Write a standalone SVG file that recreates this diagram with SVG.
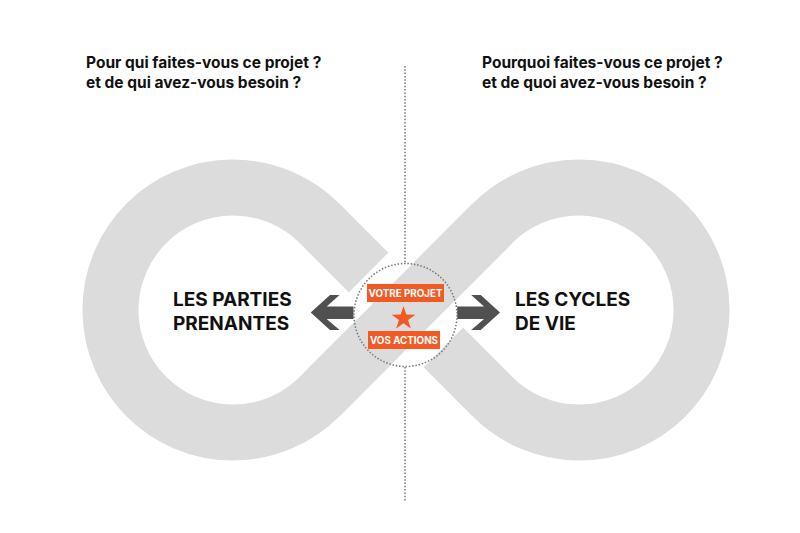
<svg xmlns="http://www.w3.org/2000/svg" width="800" height="533" viewBox="0 0 800 533">
<style>
.q{font-family:Inter,"Liberation Sans",sans-serif;font-weight:700;font-size:15.5px;fill:#111}
.lbl{font-family:Inter,"Liberation Sans",sans-serif;font-weight:700;font-size:19px;fill:#111}
.tag{font-family:Inter,"Liberation Sans",sans-serif;font-weight:700;font-size:9.8px;fill:#fff}
.dot{fill:none;stroke:#777;stroke-width:1.5;stroke-dasharray:1.5 1.8}
.arr{fill:#505050}
.org{fill:#f15a24}
</style>
<rect width="800" height="533" fill="#fff"/>
<g id="infinity">
<path d="M319.7 396.5 L492.3 223.5 A122.5 122.5 0 1 1 492.3 396.5 L319.7 223.5 A122.5 122.5 0 1 0 319.7 396.5 Z" fill="none" stroke="#dcdcdc" stroke-width="56"/>
<line x1="377.8" y1="338.3" x2="434.2" y2="281.7" stroke="#fff" stroke-width="106"/>
<line x1="319.7" y1="396.5" x2="492.3" y2="223.5" stroke="#dcdcdc" stroke-width="56"/>
</g>
<g id="connectors">
<line class="dot" x1="405" y1="66" x2="405" y2="263"/>
<line class="dot" x1="405" y1="367" x2="405" y2="502"/>
<polygon class="arr" points="310.7,312.5 330,295 339.5,295 326.7,306.5 353.5,306.5 353.5,319 326.7,319 339.5,330 330,330"/>
<polygon class="arr" points="500,312.5 480.7,295 471.2,295 484,306.5 457.2,306.5 457.2,319 484,319 471.2,330 480.7,330"/>
</g>
<g id="q-left">
<text class="q" x="86" y="68">Pour qui faites-vous ce projet ?</text>
<text class="q" x="86" y="88">et de qui avez-vous besoin ?</text>
</g>
<g id="q-right">
<text class="q" x="482" y="68">Pourquoi faites-vous ce projet ?</text>
<text class="q" x="482" y="88">et de quoi avez-vous besoin ?</text>
</g>
<g id="parties">
<text class="lbl" x="173" y="306">LES PARTIES</text>
<text class="lbl" x="173" y="330">PRENANTES</text>
</g>
<g id="cycles">
<text class="lbl" x="515" y="306">LES CYCLES</text>
<text class="lbl" x="515" y="330">DE VIE</text>
</g>
<g id="center">
<circle class="dot" cx="405.5" cy="315" r="51.5"/>
<rect class="org" x="367" y="284" width="77" height="18"/>
<text class="tag" x="405.5" y="296.6" text-anchor="middle">VOTRE PROJET</text>
<polygon class="org" points="403.5,306 406.32,314.62 415.39,314.64 408.06,319.98 410.85,328.61 403.5,323.3 396.15,328.61 398.94,319.98 391.61,314.64 400.68,314.62"/>
<rect class="org" x="368" y="331" width="72" height="18"/>
<text class="tag" x="404" y="343.6" text-anchor="middle">VOS ACTIONS</text>
</g>
</svg>
